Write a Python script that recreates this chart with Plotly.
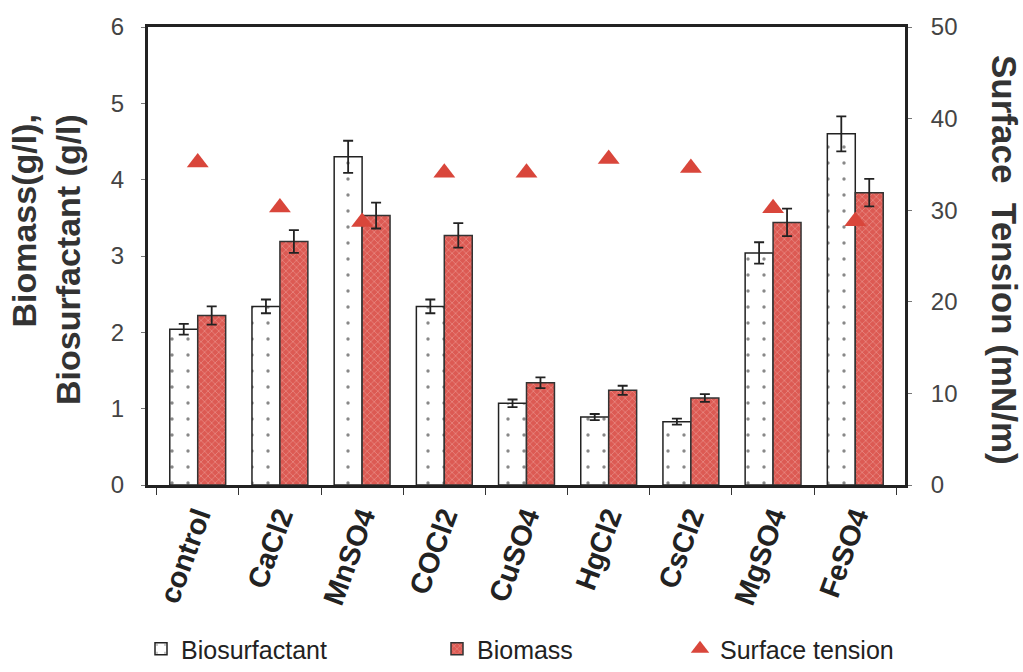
import plotly.graph_objects as go

categories = ["control", "CaCl2", "MnSO4", "COCl2", "CuSO4", "HgCl2", "CsCl2", "MgSO4", "FeSO4"]
biosurfactant = [2.04, 2.34, 4.30, 2.34, 1.07, 0.89, 0.83, 3.04, 4.60]
biosurfactant_err = [0.07, 0.09, 0.21, 0.09, 0.05, 0.04, 0.04, 0.14, 0.23]
biomass = [2.22, 3.19, 3.53, 3.27, 1.34, 1.24, 1.14, 3.44, 3.83]
biomass_err = [0.12, 0.15, 0.17, 0.16, 0.07, 0.06, 0.05, 0.18, 0.18]
surface_tension = [35.2, 30.3, 28.7, 34.1, 34.1, 35.6, 34.6, 30.2, 28.8]

FONT = "Liberation Sans, Arial, sans-serif"
RED = "#d9463b"
W, H = 1023, 672
# plot-area edges in pixels
PL, PR, PT, PB = 148, 905, 27, 485

fig = go.Figure()
fig.add_trace(go.Bar(
    x=categories, y=biosurfactant, name="Biosurfactant",
    marker=dict(color="white", line=dict(color="#222", width=1.5),
                pattern=dict(shape=".", fgcolor="#111", bgcolor="white", size=16, solidity=0.035)),
    error_y=dict(type="data", array=biosurfactant_err, color="#222", thickness=1.8, width=5),
    legend="legend", showlegend=True,
))
fig.add_trace(go.Bar(
    x=categories, y=biomass, name="Biomass",
    marker=dict(color="#e0605a", line=dict(color="#333", width=1.5),
                pattern=dict(shape="x", fgcolor="#f7c6c0", bgcolor="#dc5a53", size=5, solidity=0.25)),
    error_y=dict(type="data", array=biomass_err, color="#222", thickness=1.8, width=5),
    legend="legend2", showlegend=True,
))
fig.add_trace(go.Scatter(
    x=categories, y=surface_tension, name="Surface tension", yaxis="y2",
    mode="markers", marker=dict(symbol="triangle-up", size=19, color=RED),
    legend="legend3", showlegend=True,
))

legend_common = dict(orientation="h", yanchor="bottom", y=0.0, xanchor="left",
                     font=dict(family=FONT, size=25, color="#222"),
                     bgcolor="rgba(0,0,0,0)", visible=True)

fig.update_layout(
    width=W, height=H,
    showlegend=True,
    margin=dict(l=0, r=0, t=0, b=0, pad=0),
    paper_bgcolor="white", plot_bgcolor="white",
    barmode="group", bargap=0.32, bargroupgap=0.0,
    font=dict(family=FONT, color="#333"),
    xaxis=dict(
        domain=[PL / W, PR / W], automargin=False,
        type="category", showline=True, linecolor="#222", linewidth=3, mirror=True,
        ticks="outside", tickson="boundaries", ticklen=7, tickcolor="#333",
        tickangle=-70, tickfont=dict(family=FONT, size=29, color="#222", weight="bold"),
        showgrid=False, zeroline=False,
    ),
    yaxis=dict(
        domain=[(H - PB) / H, (H - PT) / H], automargin=False,
        range=[0, 6], dtick=1, showline=True, linecolor="#222", linewidth=3,
        ticks="outside", ticklen=4, tickcolor="#777", ticklabelstandoff=12,
        tickfont=dict(family=FONT, size=24, color="#444"),
        showgrid=False, zeroline=False,
    ),
    yaxis2=dict(
        range=[0, 50], dtick=10, overlaying="y", side="right", automargin=False,
        showline=True, linecolor="#222", linewidth=3,
        ticks="outside", ticklen=4, tickcolor="#777", ticklabelstandoff=14,
        tickfont=dict(family=FONT, size=24, color="#444"),
        showgrid=False, zeroline=False,
    ),
    legend=dict(x=141 / W, **legend_common),
    legend2=dict(x=437 / W, **legend_common),
    legend3=dict(x=680 / W, **legend_common),
    annotations=[
        dict(text="<b>Biomass(g/l),<br>Biosurfactant (g/l)</b>", xref="paper", yref="paper",
             x=46 / W, y=(H - 260) / H, xanchor="center", yanchor="middle",
             textangle=-90, showarrow=False,
             font=dict(family=FONT, size=34, color="#333"), align="right"),
        dict(text="<b>Surface&nbsp; Tension (mN/m)</b>", xref="paper", yref="paper",
             x=1005 / W, y=(H - 260) / H, xanchor="center", yanchor="middle",
             textangle=90, showarrow=False,
             font=dict(family=FONT, size=35, color="#333")),
    ],
)

fig.write_html("out.html", config={"displayModeBar": False},
               post_script="document.body.style.margin='0';")
